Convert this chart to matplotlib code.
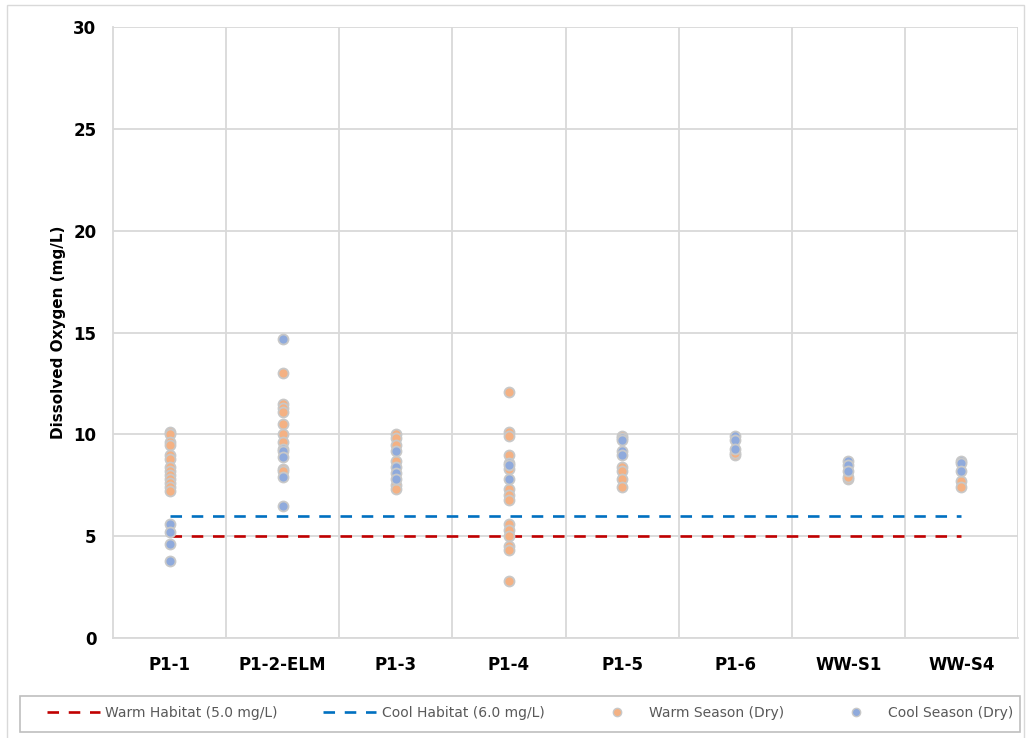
import numpy as np
import matplotlib
matplotlib.use("Agg")
import matplotlib.pyplot as plt
from matplotlib.lines import Line2D
from matplotlib.patches import Rectangle

plt.rcParams['font.family'] = ['DejaVu Sans']
plt.rcParams['lines.scale_dashes'] = False

sites = ["P1-1", "P1-2-ELM", "P1-3", "P1-4", "P1-5", "P1-6", "WW-S1", "WW-S4"]

# dissolved oxygen readings (mg/L)
warm_do = {
    "P1-1": [10.1, 10.0, 9.6, 9.5, 9.0, 8.8, 8.4, 8.2, 8.0, 7.8, 7.6, 7.4, 7.2],
    "P1-2-ELM": [13.0, 11.5, 11.3, 11.1, 10.5, 10.0, 9.6, 8.3, 8.2],
    "P1-3": [10.0, 9.8, 9.5, 8.7, 7.5, 7.3],
    "P1-4": [12.1, 10.1, 9.9, 9.0, 8.3, 7.3, 7.0, 6.8, 5.6, 5.3, 5.0, 4.5, 4.3, 2.8],
    "P1-5": [9.9, 8.4, 8.2, 7.8, 7.4],
    "P1-6": [9.0, 9.1],
    "WW-S1": [7.8, 7.9],
    "WW-S4": [7.7, 7.4],
}
cool_do = {
    "P1-1": [5.6, 5.2, 4.6, 3.8],
    "P1-2-ELM": [14.7, 9.3, 9.2, 8.9, 7.9, 6.5],
    "P1-3": [9.2, 8.4, 8.1, 7.8],
    "P1-4": [8.6, 8.5, 7.8],
    "P1-5": [9.8, 9.7, 9.2, 9.0],
    "P1-6": [9.9, 9.7, 9.3],
    "WW-S1": [8.7, 8.5, 8.2],
    "WW-S4": [8.7, 8.6, 8.2],
}
warm_habitat = 5.0
cool_habitat = 6.0

orange = "#F4B183"
blue = "#8FAADC"
edge = "#C8C8C8"

fig = plt.figure(figsize=(10.29, 7.38), dpi=100)
ax = fig.add_axes([113/1029, 1 - 638/738, (1018 - 113)/1029, (638 - 27)/738])

x = np.arange(len(sites))
ax.plot(x, [warm_habitat] * len(sites), color="#C00000", lw=1.9, dashes=(8.3, 7.0), zorder=2)
ax.plot(x, [cool_habitat] * len(sites), color="#0070C0", lw=1.9, dashes=(8.3, 7.0), zorder=2)

for i, s in enumerate(sites):
    ax.plot([i] * len(warm_do[s]), warm_do[s], 'o', ms=7.2, mfc=orange, mec=edge, mew=1.3, zorder=3)
for i, s in enumerate(sites):
    ax.plot([i] * len(cool_do[s]), cool_do[s], 'o', ms=7.2, mfc=blue, mec=edge, mew=1.3, zorder=3)

ax.set_xlim(-0.5, len(sites) - 0.5)
ax.set_ylim(0, 30)
ax.set_yticks(range(0, 31, 5))
ax.set_xticks(x)
ax.set_xticklabels(sites)
for xv in np.arange(0.5, len(sites), 1):
    ax.axvline(xv, color="#D9D9D9", lw=1.3, zorder=0)
ax.yaxis.grid(True, color="#D9D9D9", lw=1.3, zorder=0)
ax.set_axisbelow(True)
for sp in ["top", "right"]:
    ax.spines[sp].set_visible(False)
ax.spines["left"].set_color("#D9D9D9")
ax.spines["bottom"].set_color("#D9D9D9")
ax.spines["left"].set_linewidth(1.3)
ax.spines["bottom"].set_linewidth(1.3)
ax.tick_params(length=0)
ax.tick_params(axis="y", pad=12, labelsize=12)
ax.tick_params(axis="x", pad=13, labelsize=12)
for lab in ax.get_xticklabels() + ax.get_yticklabels():
    lab.set_fontweight("bold")
ax.set_ylabel("Dissolved Oxygen (mg/L)", fontsize=11, fontweight="bold", labelpad=5)

handles = [
    Line2D([], [], color="#C00000", lw=1.9, dashes=(8.3, 7.0)),
    Line2D([], [], color="#0070C0", lw=1.9, dashes=(8.3, 7.0)),
    Line2D([], [], ls="", marker="o", ms=6, mfc=orange, mec=edge, mew=1.0),
    Line2D([], [], ls="", marker="o", ms=6, mfc=blue, mec=edge, mew=1.0),
]
labels = ["Warm Habitat (5.0 mg/L)", "Cool Habitat (6.0 mg/L)",
          "Warm Season (Dry)", "Cool Season (Dry)"]
leg = fig.legend(handles, labels, ncol=4, loc="center",
                 bbox_to_anchor=(530/1029, 1 - 713/738), frameon=False,
                 fontsize=10, handlelength=3.8, handletextpad=0.4,
                 columnspacing=3.3, labelcolor="#595959")

fig.patches.append(Rectangle((20/1029, 1 - 732/738), 1000/1029, 36/738,
                             transform=fig.transFigure, fill=False,
                             ec="#BFBFBF", lw=1.2))
fig.patches.append(Rectangle((7/1029, -0.01), 1017/1029, 1 - 5/738 + 0.01,
                             transform=fig.transFigure, fill=False,
                             ec="#D9D9D9", lw=1.0))

fig.savefig("out.png", dpi=100)
